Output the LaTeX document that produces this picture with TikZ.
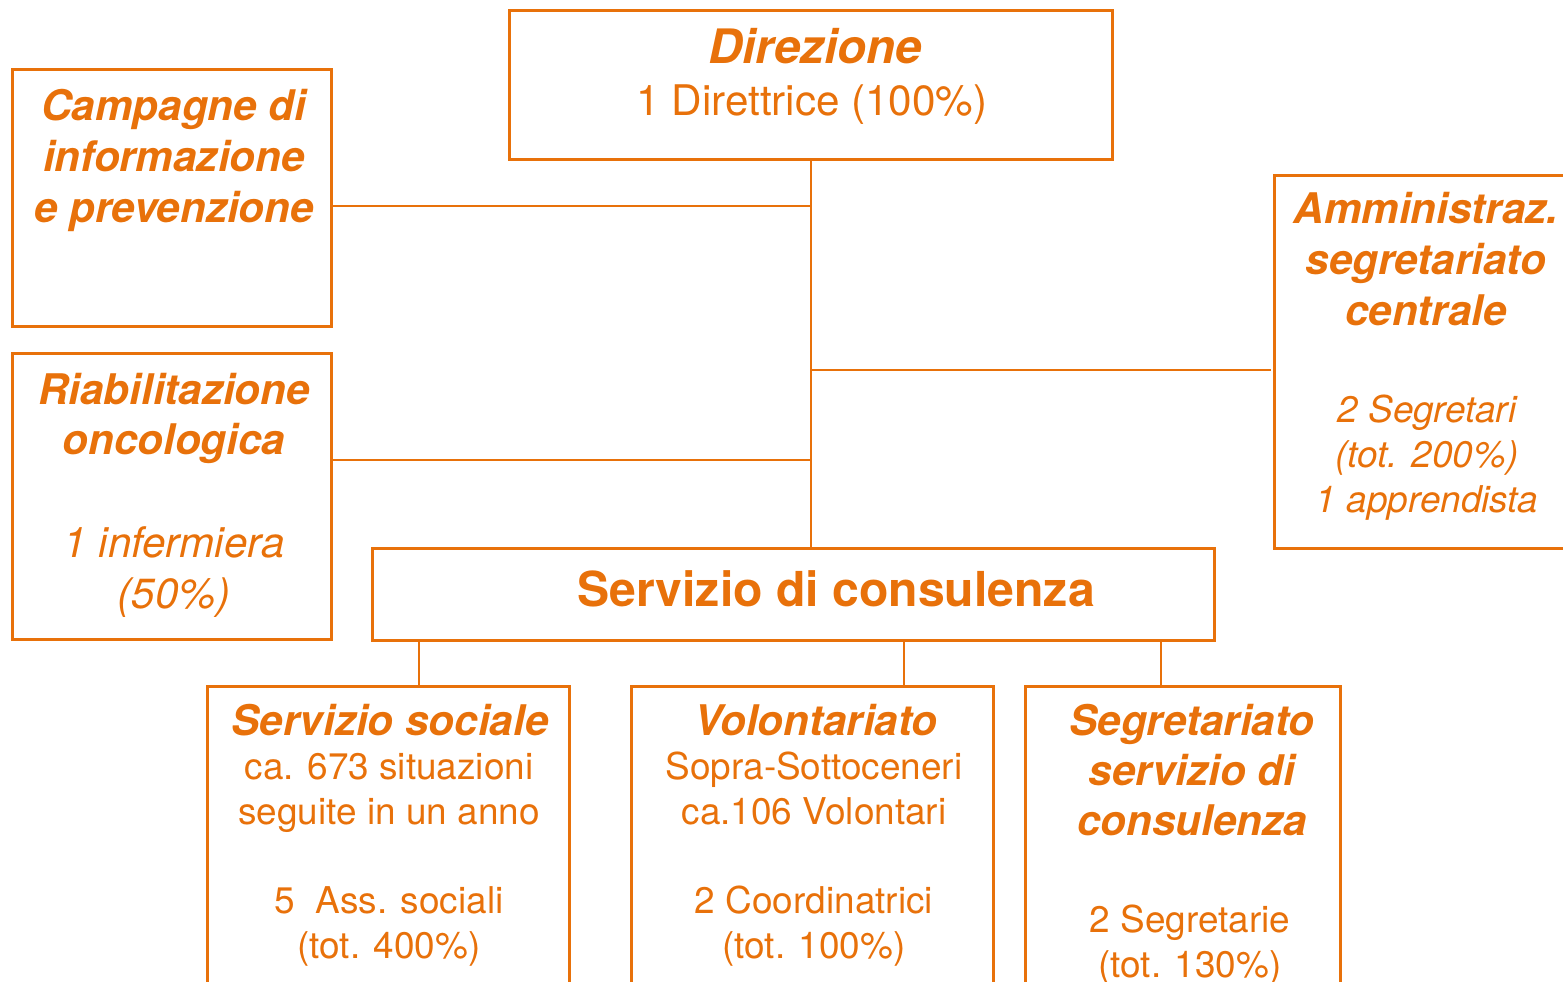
\documentclass[tikz,border=0pt]{standalone}
\usepackage{fontspec}
\setmainfont{TeX Gyre Heros}
\definecolor{lcorange}{RGB}{232,113,10}

\begin{document}
\begin{tikzpicture}[x=0.01cm,y=-0.01cm,
  box/.style={draw=lcorange,line width=0.85pt,inner sep=0pt},
  wire/.style={draw=lcorange,line width=0.75pt},
  txt/.style={text=lcorange,align=center,anchor=base,inner sep=0pt},
  hd/.style={txt,font=\fontsize{12}{14.5}\selectfont\bfseries\itshape},
  bodyit/.style={txt,font=\fontsize{12}{14.5}\selectfont\itshape},
  smallit/.style={txt,font=\fontsize{10.5}{12.7}\selectfont\itshape},
  small/.style={txt,font=\fontsize{10.5}{12.7}\selectfont}]
\useasboundingbox (0,0) rectangle (1563,982);
\clip (0,0) rectangle (1563,982);

\node[box,minimum width=6.02cm,minimum height=1.48cm] (dir) at (811,85) {};
\node[box,minimum width=3.18cm,minimum height=2.56cm] (camp) at (172,198) {};
\node[box,minimum width=3.18cm,minimum height=2.85cm] (riab) at (172,496.5) {};
\node[box,minimum width=3.15cm,minimum height=3.72cm] (amm) at (1432.5,362) {};
\node[box,minimum width=8.41cm,minimum height=0.91cm] (cons) at (793.5,594.5) {};
\node[box,minimum width=3.61cm,minimum height=3.3cm] (soc) at (388.5,852) {};
\node[box,minimum width=3.61cm,minimum height=3.3cm] (vol) at (812.5,852) {};
\node[box,minimum width=3.14cm,minimum height=3.3cm] (seg) at (1183,852) {};

\node[txt,font=\fontsize{13.5}{16}\selectfont\bfseries\itshape] (dirT) at (815,64) {Direzione};
\node[txt,font=\fontsize{12}{14.5}\selectfont] (dirB) at (812,116) {1 Direttrice (100\%)};
\node[hd] (campT) at (174,222) {Campagne di\\informazione\\e prevenzione};
\node[hd] (riabT) at (174,455) {Riabilitazione\\oncologica};
\node[bodyit] (riabB) at (174,608) {1 infermiera\\(50\%)};
\node[hd] (ammT) at (1426,325) {Amministraz.\\segretariato\\centrale};
\node[smallit] (ammB) at (1427,512) {2 Segretari\\(tot. 200\%)\\1 apprendista};
\node[txt,font=\fontsize{13.7}{16}\selectfont\bfseries] (consT) at (836,606) {Servizio di consulenza};
\node[hd] (socT) at (390,735) {Servizio sociale};
\node[small] (socB) at (389,958) {ca. 673 situazioni\\seguite in un anno\\[12.7pt]5\ \ Ass. sociali\\(tot. 400\%)};
\node[hd] (volT) at (816,735) {Volontariato};
\node[small] (volB) at (814,958) {Sopra-Sottoceneri\\ca.106 Volontari\\[12.7pt]2 Coordinatrici\\(tot. 100\%)};
\node[hd,font=\fontsize{12}{14.2}\selectfont\bfseries\itshape] (segT) at (1192,835) {Segretariato\\servizio di\\consulenza};
\node[small] (segB) at (1190,977) {2 Segretarie\\(tot. 130\%)};

\draw[wire] (dir.south) -- (dir.south |- cons.north);
\draw[wire] (camp.east |- 0,206) -- (dir.south |- 0,206);
\draw[wire] (riab.east |- 0,460) -- (dir.south |- 0,460);
\draw[wire] (dir.south |- 0,370) -- (1271,370);
\draw[wire] (cons.south -| 419,0) -- (soc.north -| 419,0);
\draw[wire] (cons.south -| 904,0) -- (vol.north -| 904,0);
\draw[wire] (cons.south -| 1161,0) -- (seg.north -| 1161,0);
\end{tikzpicture}
\end{document}
